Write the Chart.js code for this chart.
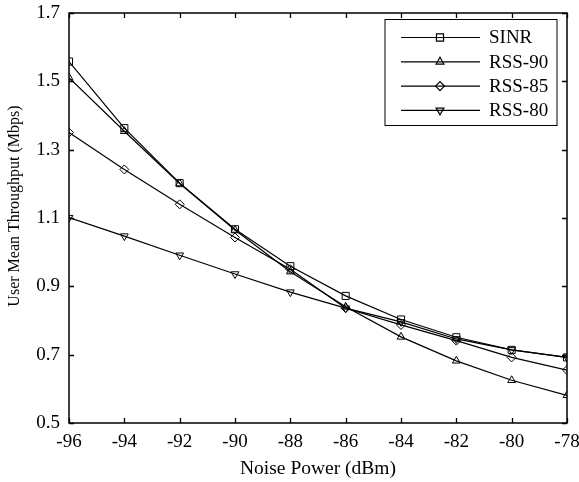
<!DOCTYPE html>
<html>
<head>
<meta charset="utf-8">
<script src="https://cdn.jsdelivr.net/npm/chart.js@4.4.1/dist/chart.umd.min.js"></script>
<style>
  html, body { margin: 0; padding: 0; background: #fff; }
  #wrap { width: 579px; height: 482px; }
</style>
</head>
<body>
<div id="wrap"><canvas id="chart" width="579" height="482"></canvas></div>
<script>
// noise power (dBm)
const noisePower = [-96, -94, -92, -90, -88, -86, -84, -82, -80, -78];

// user mean throughput (Mbps)
const sinr   = [1.558, 1.363, 1.202, 1.067, 0.959, 0.872, 0.803, 0.751, 0.714, 0.692];
const rss90  = [1.511, 1.354, 1.201, 1.065, 0.943, 0.840, 0.752, 0.682, 0.625, 0.581];
const rss85  = [1.350, 1.242, 1.140, 1.043, 0.950, 0.836, 0.787, 0.741, 0.692, 0.655];
const rss80  = [1.101, 1.047, 0.991, 0.936, 0.883, 0.836, 0.796, 0.746, 0.714, 0.692];

const seriesNames = ['SINR', 'RSS-90', 'RSS-85', 'RSS-80'];
const seriesData = [sinr, rss90, rss85, rss80];
const markers = [
    { style: 'rect', rot: 0, r: 5 },
    { style: 'triangle', rot: 0, r: 4.5 },
    { style: 'rectRot', rot: 0, r: 4.5 },
    { style: 'triangle', rot: 180, r: 4.5 }
];

const yTitle = 'User Mean Throughput (Mbps)';
const serif = "'Liberation Serif', 'Times New Roman', serif";

// inward ticks on all four sides, frame, and the y title
const framePlugin = {
    id: 'frame',
    afterDraw(chart) {
        const ctx = chart.ctx;
        const a = chart.chartArea;
        const xs = chart.scales.x, ys = chart.scales.y;
        const len = 5;
        ctx.save();
        ctx.strokeStyle = '#000';
        ctx.lineWidth = 1.3;
        ctx.beginPath();
        xs.ticks.forEach(t => {
            const px = Math.round(xs.getPixelForValue(t.value)) + 0.5;
            ctx.moveTo(px, a.bottom); ctx.lineTo(px, a.bottom - len);
            ctx.moveTo(px, a.top); ctx.lineTo(px, a.top + len);
        });
        ys.ticks.forEach(t => {
            const py = Math.round(ys.getPixelForValue(t.value)) + 0.5;
            ctx.moveTo(a.left, py); ctx.lineTo(a.left + len, py);
            ctx.moveTo(a.right, py); ctx.lineTo(a.right - len, py);
        });
        ctx.stroke();
        ctx.lineWidth = 1.5;
        ctx.strokeRect(a.left, a.top, a.right - a.left, a.bottom - a.top);

        // y axis title, sits a bit above the axis centre like the original
        ctx.translate(15, 206);
        ctx.rotate(-Math.PI / 2);
        ctx.font = '16px ' + serif;
        ctx.fillStyle = '#000';
        ctx.textAlign = 'center';
        ctx.textBaseline = 'middle';
        ctx.fillText(yTitle, 0, 0);
        ctx.restore();
    }
};

// legend box drawn inside the plot, top right
const legendPlugin = {
    id: 'boxLegend',
    afterDraw(chart) {
        const ctx = chart.ctx;
        const a = chart.chartArea;
        const w = 172, h = 106;
        const x0 = a.right - 10 - w, y0 = a.top + 6.5;
        ctx.save();
        ctx.fillStyle = '#fff';
        ctx.fillRect(x0, y0, w, h);
        ctx.strokeStyle = '#000';
        ctx.lineWidth = 1;
        ctx.strokeRect(x0, y0, w, h);
        ctx.font = '19px ' + serif;
        ctx.textBaseline = 'middle';
        chart.data.datasets.forEach((ds, i) => {
            const y = y0 + 18 + i * 24.3;
            ctx.beginPath();
            ctx.lineWidth = 1.2;
            ctx.moveTo(x0 + 16, y);
            ctx.lineTo(x0 + 95, y);
            ctx.stroke();
            ctx.fillStyle = 'rgba(0,0,0,0)';
            Chart.helpers.drawPoint(ctx, {
                pointStyle: ds.pointStyle,
                rotation: ds.pointRotation,
                radius: ds.pointRadius,
                borderWidth: 1
            }, x0 + 55, y);
            ctx.fillStyle = '#000';
            ctx.fillText(ds.label, x0 + 104, y + 1);
        });
        ctx.restore();
    }
};

new Chart(document.getElementById('chart').getContext('2d'), {
    type: 'line',
    data: {
        datasets: seriesNames.map((name, i) => ({
            label: name,
            data: noisePower.map((x, j) => ({ x: x, y: seriesData[i][j] })),
            borderColor: '#000',
            borderWidth: 1.2,
            backgroundColor: 'rgba(0,0,0,0)',
            pointStyle: markers[i].style,
            pointRotation: markers[i].rot,
            pointRadius: markers[i].r,
            pointBorderWidth: 1,
            pointBorderColor: '#000',
            pointBackgroundColor: 'rgba(0,0,0,0)',
            tension: 0
        }))
    },
    options: {
        responsive: false,
        animation: false,
        events: [],
        layout: { padding: { top: 13, right: 12, left: 0, bottom: 0 } },
        plugins: {
            legend: { display: false },
            tooltip: { enabled: false }
        },
        scales: {
            x: {
                type: 'linear',
                min: -96, max: -78,
                grid: { display: false, drawTicks: false },
                border: { display: false },
                ticks: {
                    stepSize: 2,
                    color: '#000',
                    padding: 8,
                    maxRotation: 0,
                    font: { family: serif, size: 19 }
                },
                title: {
                    display: true,
                    text: 'Noise Power (dBm)',
                    color: '#000',
                    padding: { top: 0, bottom: 1 },
                    font: { family: serif, size: 19.5 }
                },
                afterFit(scale) {
                    scale.height = 59;
                    scale.paddingLeft = 0;
                    scale.paddingRight = 0;
                }
            },
            y: {
                min: 0.5, max: 1.7,
                grid: { display: false, drawTicks: false },
                border: { display: false },
                ticks: {
                    stepSize: 0.2,
                    color: '#000',
                    padding: 9,
                    font: { family: serif, size: 19 },
                    callback: v => v.toFixed(1)
                },
                afterFit(scale) {
                    scale.width = 69;
                    scale.paddingTop = 0;
                    scale.paddingBottom = 0;
                }
            }
        }
    },
    plugins: [framePlugin, legendPlugin]
});
</script>
</body>
</html>
